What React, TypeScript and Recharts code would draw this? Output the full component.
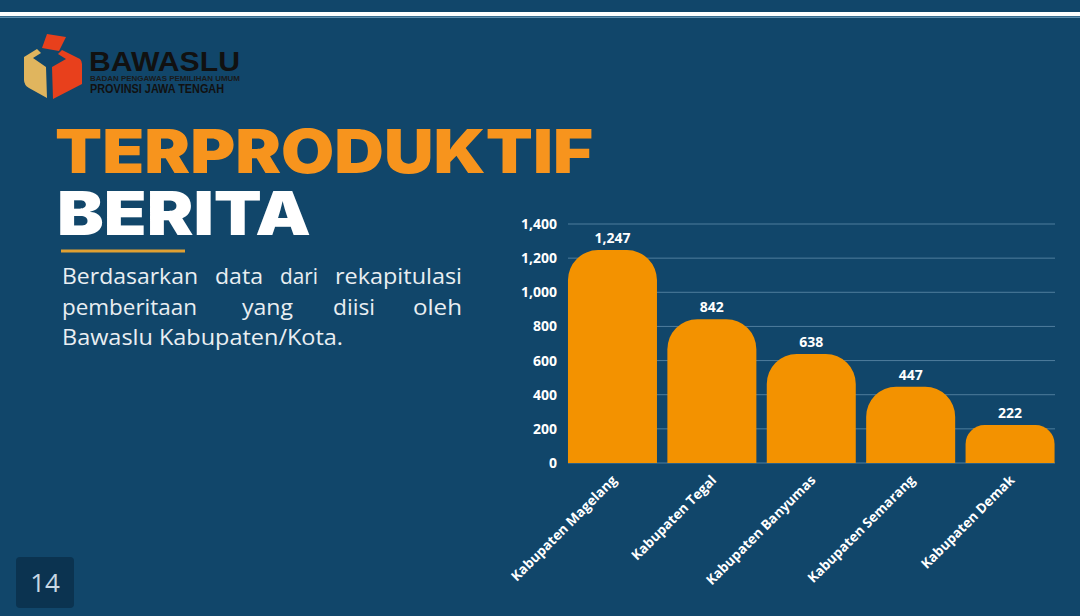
import React from "react";
import { BarChart, Bar, XAxis, YAxis, CartesianGrid, LabelList } from "recharts";

const categories = [
  "Kabupaten Magelang",
  "Kabupaten Tegal",
  "Kabupaten Banyumas",
  "Kabupaten Semarang",
  "Kabupaten Demak",
];
const beritaValues = [1247, 842, 638, 447, 222];
const yTicks = [0, 200, 400, 600, 800, 1000, 1200, 1400];

const data = categories.map((name, i) => ({ name, value: beritaValues[i] }));

const BG = "#11466a";
const ORANGE = "#f39200";
const fmt = (v: number) => v.toLocaleString("en-US");
const CHART_FONT = "'Open Sans', 'DejaVu Sans', sans-serif";

const line1 = [
  { w: "Berdasarkan", x: 62, len: 136 },
  { w: "data", x: 215, len: 48 },
  { w: "dari", x: 280, len: 38 },
  { w: "rekapitulasi", x: 335, len: 127 },
];
const line2 = [
  { w: "pemberitaan", x: 62, len: 135 },
  { w: "yang", x: 242, len: 51 },
  { w: "diisi", x: 333, len: 42 },
  { w: "oleh", x: 413, len: 49 },
];

const XTick = (props: any) => {
  const { x, y, payload } = props;
  return (
    <g transform={`translate(${x + 5},${y + 10})`}>
      <text
        x={0}
        y={0}
        transform="rotate(-45)"
        textAnchor="end"
        fill="#ffffff"
        fontFamily={CHART_FONT}
        fontWeight={700}
        fontSize={13.5}
      >
        {payload.value}
      </text>
    </g>
  );
};

export default function App() {
  return (
    <div
      style={{
        position: "fixed",
        left: 0,
        top: 0,
        width: 1080,
        height: 616,
        background: BG,
        overflow: "hidden",
      }}
    >
      <svg
        width={1080}
        height={616}
        style={{ position: "absolute", left: 0, top: 0 }}
      >
        {/* top line */}
        <rect x={0} y={12} width={1080} height={4} fill="#ffffff" />
        <rect x={0} y={16.5} width={1080} height={1.5} fill="#5f8fb0" />

        {/* logo */}
        <path
          d="M24,57 L37,49 L41,53 L33,58 L46,67 L47,98 L29,88 Q24,85 24,80 Z"
          fill="#e0b55e"
        />
        <path
          d="M52,67 L66,59 L58,54 L62,50 L80,59 Q82,61 82,64 L82,84 L53,99 Z"
          fill="#e8401c"
        />
        <path d="M47,34 L66,37 L59,51 L42,48 Z" fill="#e8401c" />
        <text
          x={89}
          y={71}
          fontFamily="'Liberation Sans', Arial, sans-serif"
          fontWeight={700}
          fontSize={28}
          fill="#111111"
          textLength={151}
          lengthAdjust="spacingAndGlyphs"
        >
          BAWASLU
        </text>
        <text
          x={90}
          y={81}
          fontFamily="'Liberation Sans', Arial, sans-serif"
          fontWeight={700}
          fontSize={6.5}
          fill="#1a1a1a"
          textLength={150}
          lengthAdjust="spacingAndGlyphs"
        >
          BADAN PENGAWAS PEMILIHAN UMUM
        </text>
        <text
          x={90}
          y={93}
          fontFamily="'Liberation Sans', Arial, sans-serif"
          fontWeight={700}
          fontSize={12.5}
          fill="#111111"
          textLength={134}
          lengthAdjust="spacingAndGlyphs"
        >
          PROVINSI JAWA TENGAH
        </text>

        {/* title */}
        <text
          x={55}
          y={173}
          fontFamily="Inter, 'Open Sans', sans-serif"
          fontWeight={900}
          fontSize={60}
          fill="#f7941d"
          textLength={538}
          lengthAdjust="spacingAndGlyphs"
        >
          TERPRODUKTIF
        </text>
        <text
          x={57}
          y={235}
          fontFamily="Inter, 'Open Sans', sans-serif"
          fontWeight={900}
          fontSize={60}
          fill="#ffffff"
          textLength={254}
          lengthAdjust="spacingAndGlyphs"
        >
          BERITA
        </text>
        <rect x={61} y={249.5} width={124} height={3} fill="#e0a032" />

        {/* paragraph */}
        <g fontFamily="'Open Sans', sans-serif" fontSize={22} fill="#e9eef2">
          {line1.map((t) => (
            <text
              key={t.w}
              x={t.x}
              y={284}
              textLength={t.len}
              lengthAdjust="spacingAndGlyphs"
            >
              {t.w}
            </text>
          ))}
          {line2.map((t) => (
            <text
              key={t.w}
              x={t.x}
              y={314.5}
              textLength={t.len}
              lengthAdjust="spacingAndGlyphs"
            >
              {t.w}
            </text>
          ))}
          <text x={62} y={345} textLength={281} lengthAdjust="spacingAndGlyphs">
            Bawaslu Kabupaten/Kota.
          </text>
        </g>

        {/* page number */}
        <rect x={16} y={557} width={58} height={51} rx={4} fill="#0b3350" />
        <text
          x={45}
          y={592}
          textAnchor="middle"
          fontFamily="'Open Sans', sans-serif"
          fontSize={26}
          fill="#c8d8e4"
        >
          14
        </text>
      </svg>

      <div style={{ position: "absolute", left: 500, top: 200 }}>
        <BarChart
          width={580}
          height={400}
          data={data}
          margin={{ top: 24, right: 25, left: 0, bottom: 0 }}
          barCategoryGap="5%"
        >
          <CartesianGrid vertical={false} stroke="#4f7d9c" strokeWidth={1} />
          <XAxis
            dataKey="name"
            interval={0}
            axisLine={false}
            tickLine={false}
            height={137}
            padding={{ left: -5, right: -5 }}
            tick={<XTick />}
          />
          <YAxis
            width={68}
            domain={[0, 1400]}
            ticks={yTicks}
            axisLine={false}
            tickLine={false}
            tickSize={0}
            tickMargin={11}
            tickFormatter={fmt}
            tick={{
              fill: "#ffffff",
              fontFamily: CHART_FONT,
              fontWeight: 700,
              fontSize: 14,
            }}
          />
          <Bar
            dataKey="value"
            fill={ORANGE}
            radius={[30, 30, 0, 0]}
            isAnimationActive={false}
          >
            <LabelList
              dataKey="value"
              position="top"
              offset={7}
              formatter={(v: any) => fmt(Number(v))}
              fill="#ffffff"
              fontFamily={CHART_FONT}
              fontWeight={700}
              fontSize={14}
            />
          </Bar>
        </BarChart>
      </div>
    </div>
  );
}
